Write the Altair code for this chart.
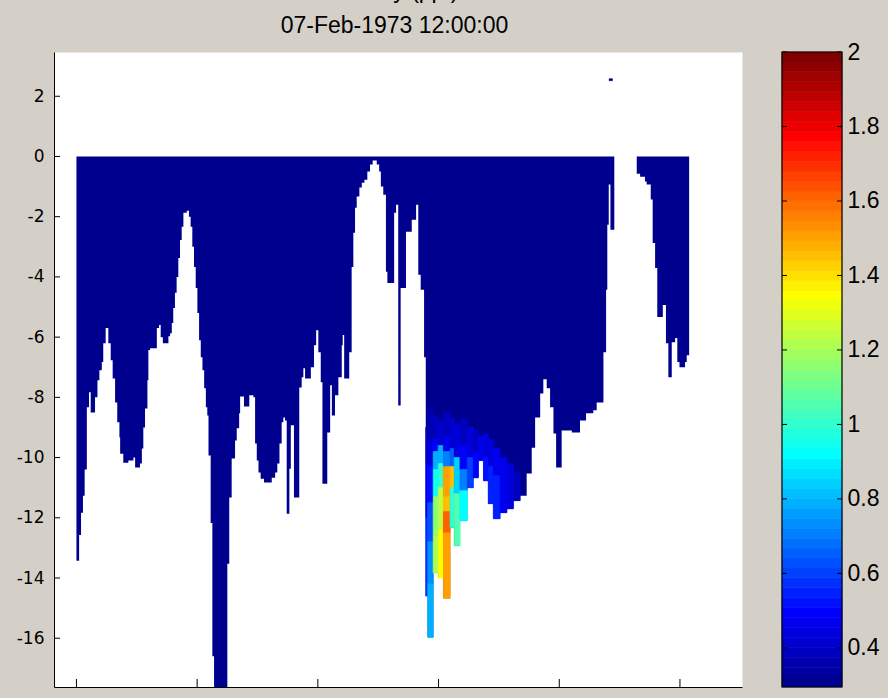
import numpy as np
import pandas as pd
import altair as alt

TITLE_LINES = ["Salinity (ppt)", "07-Feb-1973 12:00:00"]

# Bed profile along the section: (column start in km, bed depth in m).
# Each column reaches to the start of the next one, the last to *_end.
west_profile = [
    (0.00, -13.43), (0.11, -12.57), (0.19, -11.83), (0.27, -11.27), (0.34, -10.40),
    (0.43, -8.33), (0.52, -7.83), (0.59, -8.50), (0.77, -8.00), (0.87, -7.43),
    (0.95, -7.10), (1.05, -6.83), (1.11, -6.20), (1.21, -5.70), (1.32, -6.20),
    (1.42, -6.77), (1.50, -7.37), (1.60, -8.17), (1.69, -8.83), (1.78, -9.33),
    (1.81, -9.87), (1.94, -10.17), (2.15, -10.10), (2.36, -10.00), (2.43, -10.33),
    (2.63, -10.20), (2.71, -9.70), (2.77, -9.00), (2.84, -8.37), (2.94, -7.43),
    (2.98, -6.43), (3.05, -6.37), (3.33, -5.70), (3.42, -5.60), (3.49, -6.00),
    (3.58, -6.20), (3.81, -5.97), (3.88, -5.87), (3.95, -5.53), (4.01, -5.03),
    (4.08, -4.53), (4.15, -4.00), (4.22, -3.37), (4.29, -2.77), (4.36, -2.33),
    (4.43, -1.87), (4.57, -1.80), (4.66, -2.00), (4.73, -2.33), (4.80, -3.00),
    (4.87, -3.67), (4.94, -4.37), (5.01, -5.20), (5.08, -6.10), (5.15, -6.67),
    (5.22, -7.10), (5.29, -7.70), (5.36, -8.33), (5.42, -8.60), (5.47, -9.93),
    (5.56, -12.17), (5.63, -16.60), (5.70, -18.50), (6.25, -13.53), (6.33, -11.33),
    (6.43, -10.03), (6.57, -9.43), (6.64, -9.03), (6.74, -8.53), (6.78, -7.97),
    (6.94, -8.30), (7.16, -7.93), (7.33, -8.00), (7.40, -9.53), (7.47, -10.10),
    (7.54, -10.50), (7.63, -10.70), (7.77, -10.83), (8.09, -10.67), (8.23, -10.50),
    (8.32, -10.20), (8.41, -9.53), (8.50, -8.83), (8.57, -8.67), (8.64, -8.77),
    (8.71, -11.87), (8.82, -10.37), (8.88, -8.93), (9.01, -11.33), (9.23, -7.67),
    (9.33, -7.33), (9.40, -7.03), (9.47, -7.37), (9.71, -7.00), (9.84, -6.27),
    (9.93, -5.77), (10.02, -6.50), (10.12, -7.50), (10.19, -10.87), (10.39, -9.17),
    (10.51, -7.60), (10.58, -8.60), (10.71, -7.93), (10.85, -7.33), (10.99, -6.27),
    (11.03, -5.93), (11.09, -7.37), (11.30, -6.50), (11.40, -3.67), (11.47, -2.53),
    (11.54, -1.70), (11.61, -1.33), (11.72, -1.03), (11.82, -0.87), (11.93, -0.77),
    (12.05, -0.50), (12.16, -0.27), (12.27, -0.13), (12.44, -0.27), (12.54, -0.50),
    (12.61, -1.00), (12.71, -1.27), (12.82, -3.83), (12.88, -4.20), (13.16, -1.87),
    (13.24, -1.60), (13.33, -8.27), (13.43, -4.37), (13.65, -2.50), (13.89, -2.10),
    (14.07, -1.60), (14.16, -3.93), (14.26, -4.43), (14.40, -6.67), (14.47, -14.60),
    (14.55, -15.97), (14.78, -13.83), (14.99, -14.00), (15.20, -14.67), (15.48, -12.33),
    (15.65, -12.93), (15.89, -12.10), (16.19, -11.00), (16.44, -10.67), (16.65, -10.10),
    (16.86, -10.77), (17.06, -11.53), (17.27, -12.03), (17.55, -11.83), (17.83, -11.70),
    (18.10, -11.43), (18.38, -11.27), (18.65, -10.53), (18.86, -9.67), (19.00, -8.67),
    (19.21, -7.87), (19.34, -7.40), (19.48, -7.70), (19.62, -8.33), (19.76, -9.20),
    (19.87, -10.33), (20.10, -9.10), (20.52, -9.17), (20.86, -8.77), (21.11, -8.53),
    (21.41, -8.43), (21.55, -8.17), (21.83, -6.50), (21.94, -4.43), (21.99, -2.27),
    (22.05, -0.93), (22.12, -2.43),
]
west_end = 22.28

east_profile = [
    (23.21, -0.57), (23.35, -0.67), (23.55, -0.83), (23.62, -0.93), (23.79, -1.43),
    (23.87, -2.87), (23.97, -3.70), (24.06, -5.33), (24.29, -4.93), (24.42, -6.20),
    (24.52, -7.33), (24.66, -6.17), (24.80, -6.03), (24.89, -6.83), (24.98, -7.00),
    (25.21, -6.83), (25.28, -6.60),
]
east_end = 25.38

SURFACE = 0.0
BACKGROUND_SALINITY = 0.30

# Cells above background: (left km, right km, [(top m, bottom m, salinity ppt), ...])
patch_columns = [
    (14.47, 14.55, [(-9.0, -10.2, 0.38), (-10.2, -12.0, 0.48), (-12.0, -14.60, 0.58)]),
    (14.55, 14.78, [(-8.4, -9.4, 0.37), (-9.4, -10.3, 0.44), (-10.3, -11.5, 0.52),
                    (-11.5, -12.8, 0.62), (-12.8, -14.2, 0.74), (-14.2, -15.97, 0.80)]),
    (14.78, 14.99, [(-8.6, -9.4, 0.38), (-9.4, -9.8, 0.50), (-9.8, -10.4, 0.78),
                    (-10.4, -11.3, 0.95), (-11.3, -12.6, 1.15), (-12.6, -13.83, 1.22)]),
    (14.99, 15.20, [(-8.8, -9.6, 0.42), (-9.6, -10.2, 0.80), (-10.2, -11.0, 1.00),
                    (-11.0, -12.4, 1.25), (-12.4, -14.00, 1.35)]),
    (15.20, 15.48, [(-8.5, -9.3, 0.38), (-9.3, -9.8, 0.48), (-9.8, -10.3, 0.72),
                    (-10.3, -11.3, 1.52), (-11.3, -11.8, 1.45), (-11.8, -12.5, 1.62),
                    (-12.5, -14.67, 1.50)]),
    (15.48, 15.65, [(-8.7, -9.7, 0.42), (-9.7, -10.3, 0.66), (-10.3, -11.0, 1.45),
                    (-11.0, -12.33, 1.00)]),
    (15.65, 15.89, [(-8.9, -10.0, 0.45), (-10.0, -11.2, 0.85), (-11.2, -12.93, 1.05)]),
    (15.89, 16.19, [(-8.7, -9.6, 0.40), (-9.6, -10.4, 0.50), (-10.4, -11.1, 0.72),
                    (-11.1, -12.10, 0.92)]),
    (16.19, 16.44, [(-9.0, -10.0, 0.45), (-10.0, -11.00, 0.60)]),
    (16.44, 16.65, [(-9.1, -9.8, 0.40), (-9.8, -10.67, 0.50)]),
    (16.65, 16.86, [(-9.3, -10.10, 0.48)]),
    (16.86, 17.06, [(-9.2, -10.0, 0.45), (-10.0, -10.77, 0.52)]),
    (17.06, 17.27, [(-9.4, -10.3, 0.45), (-10.3, -11.53, 0.55)]),
    (17.27, 17.55, [(-9.7, -10.6, 0.47), (-10.6, -12.03, 0.55)]),
    (17.55, 17.83, [(-10.0, -11.83, 0.48)]),
    (17.83, 18.10, [(-10.2, -11.70, 0.45)]),
    (18.10, 18.38, [(-10.5, -11.43, 0.40)]),
    (22.07, 22.20, [(2.58, 2.52, 0.30)]),
]

X_TICKS = [0, 5, 10, 15, 20, 25]
Y_TICKS = [-16, -14, -12, -10, -8, -6, -4, -2, 0, 2]
CBAR_TICKS = [0.4, 0.6, 0.8, 1, 1.2, 1.4, 1.6, 1.8, 2]
CLIM = [0.295, 2.0]


def jet_colors(m=64):
    """MATLAB-style jet colormap with m entries, as hex strings."""
    n = int(np.ceil(m / 4))
    u = np.concatenate([np.arange(1, n + 1) / n, np.ones(n - 1), np.arange(n, 0, -1) / n])
    g = int(np.ceil(n / 2)) - int(m % 4 == 1) + np.arange(1, len(u) + 1)
    r = g + n
    b = g - n
    r = r[r <= m]
    g = g[g <= m]
    b = b[b >= 1]
    cmap = np.zeros((m, 3))
    cmap[r - 1, 0] = u[:len(r)]
    cmap[g - 1, 1] = u[:len(g)]
    cmap[b - 1, 2] = u[len(u) - len(b):]
    return ["#%02x%02x%02x" % tuple(int(round(v * 255)) for v in row) for row in cmap]


JET = jet_colors(64)

# ---- tables -------------------------------------------------------------
# step outline of the wetted section, one path per reach
outline = []
for reach, (profile, end) in enumerate(((west_profile, west_end), (east_profile, east_end))):
    for x0, bed in profile:
        outline.append({"reach": reach, "x": x0, "top": SURFACE, "bottom": bed,
                        "salinity": BACKGROUND_SALINITY})
    outline.append({"reach": reach, "x": end, "top": SURFACE, "bottom": profile[-1][1],
                    "salinity": BACKGROUND_SALINITY})
outline = pd.DataFrame(outline)

cells = pd.DataFrame([
    {"x0": x0, "x1": x1, "top": t, "bottom": b, "salinity": s}
    for x0, x1, layers in patch_columns for t, b, s in layers
])

n_bands = len(JET)
step = (CLIM[1] - CLIM[0]) / n_bands
bands = pd.DataFrame({
    "lo": [CLIM[0] + i * step for i in range(n_bands)],
    "hi": [CLIM[0] + (i + 1) * step for i in range(n_bands)],
})
bands["mid"] = (bands["lo"] + bands["hi"]) / 2

# ---- scales / axes -------------------------------------------------------
W, H = 688, 635
X_SCALE = alt.Scale(domain=[-0.93, 27.57], nice=False, zero=False)
Y_SCALE = alt.Scale(domain=[-17.62, 3.47], nice=False, zero=False)
C_SCALE = alt.Scale(domain=CLIM, nice=False, zero=False)
COLOR_SCALE = alt.Scale(type="quantize", domain=CLIM, range=JET)

X_AXIS = alt.Axis(values=X_TICKS, tickSize=0, domainColor="black", domainWidth=1,
                  labelFont="DejaVu Sans", labelFontSize=17, labelColor="black",
                  labelPadding=10, title=None, grid=False, labelFlush=False)
Y_AXIS = alt.Axis(values=Y_TICKS, tickSize=0, domainColor="black", domainWidth=1,
                  labelFont="DejaVu Sans", labelFontSize=17, labelColor="black",
                  labelPadding=10, title=None, grid=False, labelFlush=False,
                  labelOverlap=False, labelExpr="'' + datum.value")
CBAR_AXIS = alt.Axis(orient="right", offset=100, values=CBAR_TICKS, domain=False,
                     tickSize=0, labelFont="Liberation Sans", labelFontSize=23,
                     labelColor="black", labelPadding=5, title=None, grid=False,
                     labelFlush=False, labelOverlap=False,
                     labelExpr="'' + datum.value")

water = alt.Chart(outline).mark_area(interpolate="step-after", clip=True).encode(
    x=alt.X("x:Q", scale=X_SCALE, axis=X_AXIS),
    y=alt.Y("bottom:Q", scale=Y_SCALE, axis=Y_AXIS),
    y2="top:Q",
    detail="reach:N",
    color=alt.Color("salinity:Q", scale=COLOR_SCALE, legend=None),
)

salty = alt.Chart(cells).mark_rect(clip=True, strokeWidth=0.8).encode(
    x=alt.X("x0:Q", scale=X_SCALE, axis=X_AXIS),
    x2="x1:Q",
    y=alt.Y("top:Q", scale=Y_SCALE, axis=Y_AXIS),
    y2="bottom:Q",
    color=alt.Color("salinity:Q", scale=COLOR_SCALE, legend=None),
    stroke=alt.Stroke("salinity:Q", scale=COLOR_SCALE, legend=None),
)

# inward-pointing axis ticks
y_ticks = alt.Chart(pd.DataFrame({"tick": Y_TICKS})).mark_rule(color="black").encode(
    y=alt.Y("tick:Q", scale=Y_SCALE, axis=Y_AXIS),
    x=alt.value(0), x2=alt.value(6),
)
x_ticks = alt.Chart(pd.DataFrame({"tick": X_TICKS})).mark_rule(color="black").encode(
    x=alt.X("tick:Q", scale=X_SCALE, axis=X_AXIS),
    y=alt.value(H), y2=alt.value(H - 8),
)

title_top = alt.Chart(pd.DataFrame({"t": [TITLE_LINES[0]]})).mark_text(
    font="Liberation Sans", fontSize=23, color="black", align="center",
    baseline="alphabetic",
).encode(text="t:N", x=alt.value(340.5), y=alt.value(-54))
title_bottom = alt.Chart(pd.DataFrame({"t": [TITLE_LINES[1]]})).mark_text(
    font="Liberation Sans", fontSize=23, color="black", align="center",
    baseline="alphabetic",
).encode(text="t:N", x=alt.value(340.5), y=alt.value(-19))

main = alt.layer(water, salty, y_ticks, x_ticks, title_top, title_bottom)

# ---- colorbar ------------------------------------------------------------
CB_L, CB_R = 728, 788
cbar_bands = alt.Chart(bands).mark_rect(strokeWidth=0.6).encode(
    y=alt.Y("lo:Q", scale=C_SCALE, axis=CBAR_AXIS),
    y2="hi:Q",
    x=alt.value(CB_L), x2=alt.value(CB_R),
    color=alt.Color("mid:Q", scale=COLOR_SCALE, legend=None),
    stroke=alt.Stroke("mid:Q", scale=COLOR_SCALE, legend=None),
)
cbar_ticks_left = alt.Chart(pd.DataFrame({"tick": CBAR_TICKS})).mark_rule(color="black").encode(
    y=alt.Y("tick:Q", scale=C_SCALE, axis=CBAR_AXIS),
    x=alt.value(CB_L), x2=alt.value(CB_L + 5),
)
cbar_ticks_right = alt.Chart(pd.DataFrame({"tick": CBAR_TICKS})).mark_rule(color="black").encode(
    y=alt.Y("tick:Q", scale=C_SCALE, axis=CBAR_AXIS),
    x=alt.value(CB_R - 5), x2=alt.value(CB_R),
)
cbar_frame = alt.Chart(pd.DataFrame({"k": [0]})).mark_rect(
    fillOpacity=0, stroke="black", strokeWidth=1.2,
).encode(x=alt.value(CB_L), x2=alt.value(CB_R), y=alt.value(0), y2=alt.value(H))

cbar = alt.layer(cbar_bands, cbar_ticks_left, cbar_ticks_right, cbar_frame)

chart = (
    alt.layer(main, cbar)
    .resolve_scale(y="independent")
    .properties(
        width=W, height=H,
        autosize=alt.AutoSizeParams(type="none"),
        padding={"left": 54, "top": 52, "right": 146, "bottom": 11},
        background="#d4d0c8",
    )
    .configure_view(fill="white", stroke="transparent")
)

chart.save("out.html", embed_options={"renderer": "svg", "actions": False})
